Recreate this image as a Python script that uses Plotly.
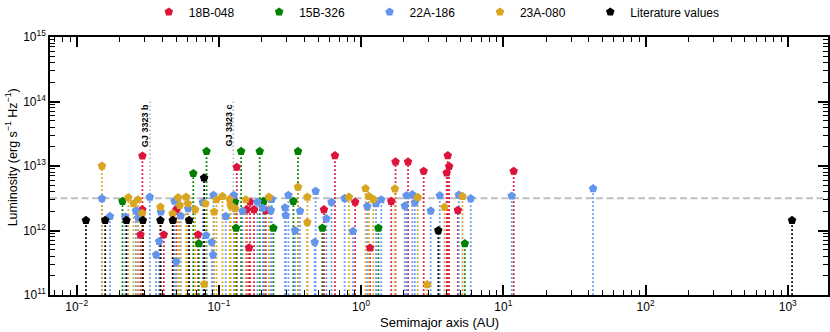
import plotly.graph_objects as go
import numpy as np

# ---------------- data ----------------
red_a = [0.0290, 0.0289, 0.0281, 0.0410, 0.0503, 0.0714, 0.1336, 0.163, 0.1656, 0.157, 0.1767,
         0.2134, 0.548, 0.655, 0.908, 1.156, 1.629, 1.747, 2.138, 2.754, 4.07, 4.16, 4.00, 4.79, 11.83]
red_L = [1.43e13, 2.11e12, 8.6e11, 8.6e11, 2.11e12, 8.6e11, 9.6e12, 5.4e11, 2.77e12, 2.11e12, 2.11e12,
         2.06e12, 2.11e12, 1.45e13, 2.76e12, 5.36e11, 2.84e12, 1.16e13, 1.16e13, 8.3e12, 1.45e13, 9.9e12,
         7.8e12, 2.06e12, 8.3e12]

green_a = [0.0210, 0.0661, 0.0723, 0.0819, 0.130, 0.132, 0.1433, 0.1937, 0.2066, 0.2416, 0.334,
           0.360, 0.534, 1.323, 5.36]
green_L = [2.84e12, 7.66e12, 6.27e11, 1.69e13, 2.77e12, 1.09e12, 1.69e13, 1.69e13, 2.84e12, 1.09e12,
           2.84e12, 1.69e13, 1.09e12, 1.09e12, 6.27e11]

blue_a = [0.01506, 0.01714, 0.0220, 0.0261, 0.0271, 0.0327, 0.0362, 0.0380, 0.0391, 0.0488, 0.0501,
          0.0540, 0.0608, 0.0771, 0.0813, 0.0891, 0.0910, 0.0916, 0.1118, 0.1273, 0.1466, 0.1866,
          0.204, 0.2352, 0.232, 0.2917, 0.2951, 0.3083, 0.343, 0.372, 0.4716, 0.479, 0.570, 0.619,
          0.766, 0.876, 1.105, 1.274, 1.386, 2.03, 2.087, 2.291, 2.386, 3.087, 3.576, 4.86, 5.90,
          11.46, 42.8]
blue_L = [3.13e12, 1.66e12, 1.62e12, 2.04e12, 1.58e12, 3.30e12, 4.2e11, 6.8e11, 1.94e12, 2.86e12, 3.3e11,
          1.68e12, 2.19e12, 2.73e12, 8.4e11, 6.6e11, 4.2e11, 3.52e12, 1.66e12, 3.52e12, 2.0e12, 2.77e12,
          2.23e12, 3.05e12, 2.06e12, 2.26e12, 1.72e12, 3.52e12, 1.0e12, 2.0e12, 6.6e11, 4.06e12, 1.53e12,
          2.76e12, 3.16e12, 9.7e11, 2.37e12, 2.61e12, 3.01e12, 2.4e12, 3.48e12, 3.61e12, 2.7e12, 2.02e12,
          3.48e12, 3.55e12, 3.13e12, 3.43e12, 4.47e12]

gold_a = [0.01506, 0.0231, 0.0251, 0.0270, 0.0289, 0.0388, 0.0472, 0.0517, 0.0531, 0.0588, 0.0605,
          0.0681, 0.0787, 0.0805, 0.0925, 0.0962, 0.106, 0.119, 0.121, 0.130, 0.1546, 0.225, 0.360,
          0.419, 0.419, 0.821, 1.075, 1.134, 1.218, 1.728, 2.50, 2.917, 3.86, 5.16]
gold_L = [1.0e13, 3.24e12, 2.61e12, 3.01e12, 1.85e12, 2.31e12, 1.83e12, 3.24e12, 2.46e12, 3.30e12, 2.61e12,
          2.11e12, 1.47e11, 2.61e12, 1.94e12, 3.01e12, 3.39e12, 3.05e12, 2.46e12, 2.19e12, 3.0e12, 3.30e12,
          4.72e12, 3.30e12, 1.34e12, 3.30e12, 4.47e12, 3.39e12, 3.05e12, 4.43e12, 3.27e12, 1.45e11, 2.31e12,
          3.39e12]

lit_a = [0.01162, 0.01588, 0.0224, 0.0292, 0.0388, 0.0474, 0.0618, 0.0787, 3.49, 1072.0]
lit_L = [1.44e12, 1.44e12, 1.44e12, 1.44e12, 1.44e12, 1.44e12, 1.44e12, 6.56e12, 1.0e12, 1.44e12]

threshold_L = 3.15e12
labels = ["GJ 3323 b", "GJ 3323 c"]
label_a = [0.0328, 0.1264]

x_tickvals = [1e-2, 1e-1, 1e0, 1e1, 1e2, 1e3]
x_ticktext = ["10<sup>−2</sup>", "10<sup>−1</sup>", "10<sup>0</sup>", "10<sup>1</sup>",
              "10<sup>2</sup>", "10<sup>3</sup>"]
y_tickvals = [1e11, 1e12, 1e13, 1e14, 1e15]
y_ticktext = ["10<sup>11</sup>", "10<sup>12</sup>", "10<sup>13</sup>", "10<sup>14</sup>", "10<sup>15</sup>"]

series = [
    ("18B-048", red_a, red_L, "#DC143C"),
    ("15B-326", green_a, green_L, "#008000"),
    ("22A-186", blue_a, blue_L, "#6495ED"),
    ("23A-080", gold_a, gold_L, "#DAA520"),
    ("Literature values", lit_a, lit_L, "#000000"),
]

YMIN = 1e11
XR = [-2.1875, 3.283]
FONT = "Liberation Sans, Arial"
PAD = "\u00a0" * 6

fig = go.Figure()

# threshold dashed line
fig.add_trace(go.Scatter(x=[10**XR[0], 10**XR[1]], y=[threshold_L, threshold_L], mode="lines",
                         line=dict(color="#c0c0c0", width=2, dash="7px,3.5px"),
                         showlegend=False, hoverinfo="skip"))

# planet label guide lines
for a in label_a:
    fig.add_trace(go.Scatter(x=[a, a], y=[1e14, threshold_L], mode="lines",
                             line=dict(color="#b0b0b0", width=1.5, dash="1.5px,2.5px"),
                             showlegend=False, hoverinfo="skip"))

def stems(xs, ys):
    sx, sy = [], []
    for a, L in zip(xs, ys):
        sx += [a, a, None]
        sy += [YMIN, L, None]
    return sx, sy

for name, xs, ys, col in series:
    sx, sy = stems(xs, ys)
    fig.add_trace(go.Scatter(x=sx, y=sy, mode="lines",
                             line=dict(color=col, width=1.8, dash="1.8px,2.2px"),
                             showlegend=False, hoverinfo="skip"))

for i, (name, xs, ys, col) in enumerate(series):
    disp = name if i == len(series) - 1 else name + PAD
    fig.add_trace(go.Scatter(x=xs, y=ys, mode="markers", name=disp,
                             marker=dict(symbol="pentagon", size=9, color=col,
                                         line=dict(width=0))))

for t, a in zip(labels, label_a):
    fig.add_annotation(x=np.log10(a) - 0.03, y=13.63, text="<b>" + t + "</b>", textangle=-90,
                       showarrow=False, xanchor="center", yanchor="middle",
                       font=dict(size=9, color="black", family=FONT))

# axis titles as annotations for exact placement
fig.add_annotation(xref="paper", yref="paper", x=0.5, y=-0.105, xanchor="center", yanchor="middle",
                   text="Semimajor axis (AU)", showarrow=False,
                   font=dict(size=13, color="black", family=FONT))
fig.add_annotation(xref="paper", yref="paper", x=-0.049, y=0.533, xanchor="center", yanchor="middle",
                   text="Luminosity (erg s<sup>−1</sup> Hz<sup>−1</sup>)", textangle=-90, showarrow=False,
                   font=dict(size=12.5, color="black", family=FONT))

minor_x = [m * 10.0**e for e in range(-3, 4) for m in range(2, 10)]
minor_y = [m * 10.0**e for e in range(10, 16) for m in range(2, 10)]

axis_common = dict(showline=True, linecolor="black", linewidth=1.5, mirror="allticks",
                   ticks="inside", ticklen=10, tickwidth=1.5, tickcolor="black",
                   showgrid=False, zeroline=False, tickmode="array",
                   tickfont=dict(size=12, color="black", family=FONT))

fig.update_xaxes(type="log", range=XR, tickvals=x_tickvals, ticktext=x_ticktext, **axis_common,
                 minor=dict(tickmode="array", tickvals=minor_x, ticks="inside", ticklen=5,
                            tickwidth=1, tickcolor="black", showgrid=False))
fig.update_yaxes(type="log", range=[11, 15], tickvals=y_tickvals, ticktext=y_ticktext, **axis_common,
                 minor=dict(tickmode="array", tickvals=minor_y, ticks="inside", ticklen=5,
                            tickwidth=1, tickcolor="black", showgrid=False))

fig.update_layout(
    width=830, height=332,
    margin=dict(l=49.5, r=2, t=37, b=37, autoexpand=False),
    plot_bgcolor="white", paper_bgcolor="white",
    font=dict(family=FONT, color="black"),
    legend=dict(orientation="h", x=0.127, xanchor="left", y=1.097, yanchor="middle",
                font=dict(size=12, color="black", family=FONT), bgcolor="rgba(0,0,0,0)"),
)

fig.write_html("out.html", config={"displayModeBar": False},
               post_script="document.body.style.margin='0px';document.body.style.overflow='hidden';")
